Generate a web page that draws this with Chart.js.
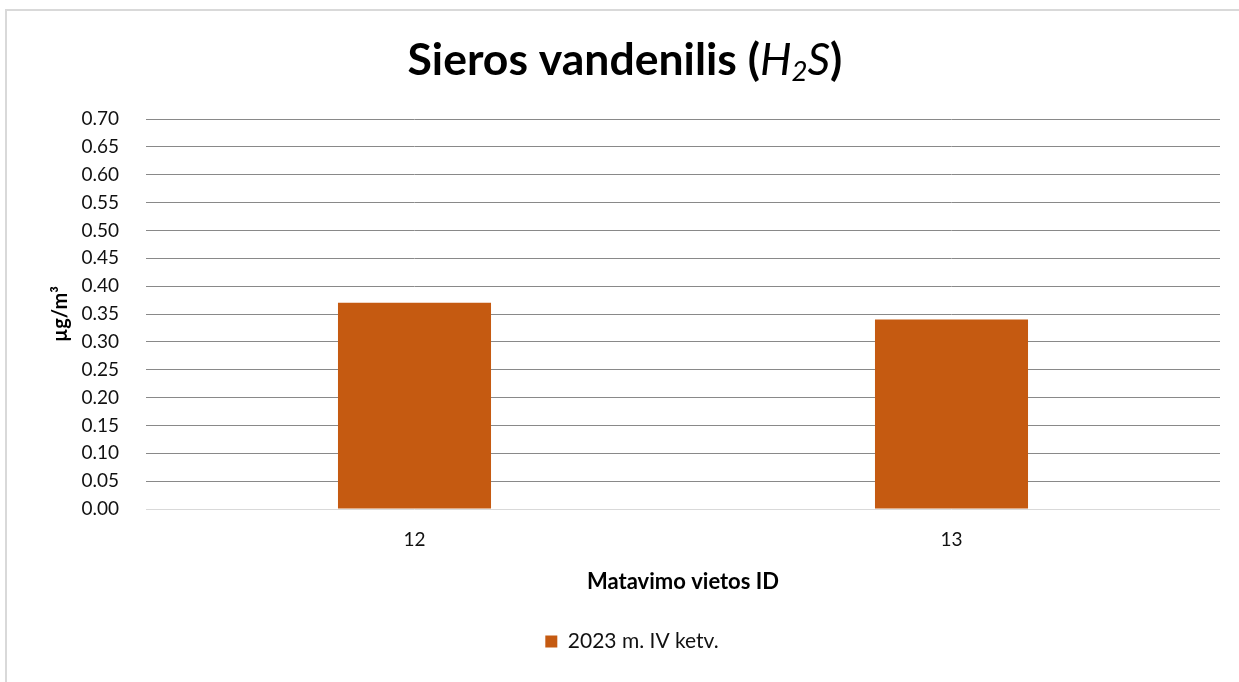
<!DOCTYPE html>
<html>
<head>
<meta charset="utf-8">
<title>Sieros vandenilis (H2S)</title>
<script src="https://cdn.jsdelivr.net/npm/chart.js@4.4.1/dist/chart.umd.min.js"></script>
<style>
    html, body { margin: 0; padding: 0; background: #fff; overflow: hidden; }
    #wrap { position: relative; width: 1239px; height: 682px; }
    #frame { position: absolute; left: 5px; top: 9px; width: 1300px; height: 720px; border: 2px solid #d9d9d9; box-sizing: border-box; }
    #chart { position: absolute; left: 0; top: 0; }
</style>
</head>
<body>
<div id="wrap">
    <div id="frame"></div>
    <canvas id="chart" width="1239" height="682"></canvas>
</div>
<script>
const categories = ['12', '13'];
const seriesLabel = '2023 m. IV ketv.';
const seriesValues = [0.37, 0.34];
const yTickLabels = ['0.00', '0.05', '0.10', '0.15', '0.20', '0.25', '0.30', '0.35', '0.40', '0.45', '0.50', '0.55', '0.60', '0.65', '0.70'];

const BAR_COLOR = '#c55a11';
const FONT = 'Lato, "Open Sans", sans-serif';

// title with italic chemical formula, drawn in pieces
const titlePlugin = {
    id: 'mixedTitle',
    afterLayout(chart) {
        // legend in the reference sits left of the plot centre
        if (chart.legend) chart.legend.left = 44;
    },
    afterDraw(chart) {
        const { ctx } = chart;
        const parts = [
            { text: 'Sieros vandenilis (', font: 'bold', scale: 1, dy: 0 },
            { text: 'H', font: 'italic', scale: 1, dy: 0 },
            { text: '2', font: 'italic', scale: 0.62, dy: 6 },
            { text: 'S', font: 'italic', scale: 1, dy: 0 },
            { text: ')', font: 'bold', scale: 1, dy: 0 },
        ];
        const targetWidth = 435;
        const measure = (size) => parts.reduce((sum, p) => {
            ctx.font = `${p.font} ${size * p.scale}px ${FONT}`;
            return sum + ctx.measureText(p.text).width;
        }, 0);

        ctx.save();
        let size = 40;
        size = size * targetWidth / measure(size);
        let x = 625 - targetWidth / 2;
        const baseline = 75;
        ctx.fillStyle = '#000';
        ctx.textBaseline = 'alphabetic';
        ctx.textAlign = 'left';
        parts.forEach((p) => {
            ctx.font = `${p.font} ${size * p.scale}px ${FONT}`;
            ctx.fillText(p.text, x, baseline + p.dy);
            x += ctx.measureText(p.text).width;
        });
        ctx.restore();
    },
};

new Chart(document.getElementById('chart'), {
    type: 'bar',
    data: {
        labels: categories,
        datasets: [{
            label: seriesLabel,
            data: seriesValues,
            backgroundColor: BAR_COLOR,
            borderWidth: 0,
            categoryPercentage: 1,
            barPercentage: 0.285,
        }],
    },
    options: {
        responsive: false,
        animation: false,
        layout: {
            padding: { top: 119, left: 0, right: 19, bottom: 20 },
        },
        plugins: {
            legend: {
                position: 'bottom',
                labels: {
                    boxWidth: 12,
                    boxHeight: 12,
                    padding: 10,
                    color: '#111',
                    font: { family: FONT, size: 21 },
                },
            },
            tooltip: { enabled: false },
        },
        scales: {
            x: {
                grid: { display: false },
                border: { display: false },
                ticks: {
                    padding: 11,
                    color: '#111',
                    font: { family: FONT, size: 19 },
                },
                title: {
                    display: true,
                    text: 'Matavimo vietos ID',
                    color: '#000',
                    font: { family: FONT, size: 22, weight: 'bold' },
                    padding: { top: 0, bottom: 26 },
                },
                afterFit: (scale) => { scale.height = 112; },
            },
            y: {
                min: 0,
                max: 0.7,
                grid: {
                    drawTicks: false,
                    color: (c) => (c.tick && c.tick.value === 0 ? '#d9d9d9' : '#898989'),
                    lineWidth: 1,
                },
                border: { display: false },
                ticks: {
                    stepSize: 0.05,
                    padding: 27,
                    color: '#111',
                    font: { family: FONT, size: 19 },
                    callback: (value, index) => yTickLabels[index] ?? value.toFixed(2),
                },
                title: {
                    display: true,
                    text: 'µg/m³',
                    color: '#000',
                    font: { family: FONT, size: 20, weight: 'bold' },
                    padding: { top: 49, bottom: 0 },
                },
                afterFit: (scale) => { scale.width = 146; },
            },
        },
    },
    plugins: [titlePlugin],
});
</script>
</body>
</html>
